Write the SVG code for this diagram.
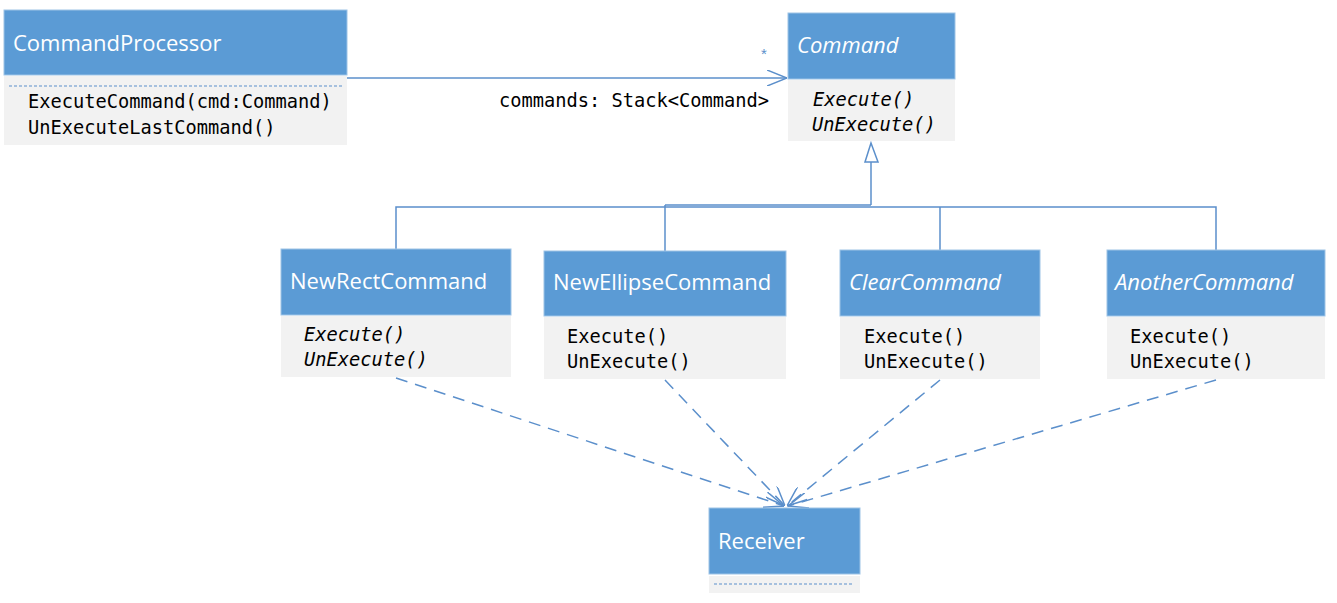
<svg xmlns="http://www.w3.org/2000/svg" width="1337" height="603" viewBox="0 0 1337 603">
<style>
.hd{fill:#5B9BD5;stroke:#9DC3E6;stroke-width:1}
.bd{fill:#F2F2F2}
.ttl{font-family:"Open Sans","Noto Sans",sans-serif;font-size:22px;fill:#FFFFFF}
.it{font-style:italic}
.m{font-family:"DejaVu Sans Mono","Liberation Mono",monospace;font-size:18.7px;fill:#000000}
.ln{stroke:#5B8FCB;stroke-width:1.5;fill:none}
.dep{stroke:#5B8FCB;stroke-width:1.5;fill:none;stroke-dasharray:12 8}
.sep{stroke:#5B8FCB;stroke-width:1;stroke-dasharray:3 2}
.lbl{font-family:"DejaVu Sans Mono","Liberation Mono",monospace;font-size:18.7px;fill:#000000}
</style>
<defs>
<marker id="open" viewBox="0 0 20 16" refX="20" refY="8" markerWidth="20" markerHeight="16" markerUnits="userSpaceOnUse" orient="auto">
<path d="M0,0 L20,8 L0,16" fill="none" stroke="#5B8FCB" stroke-width="1.5"/>
</marker>
</defs>
<rect width="1337" height="603" fill="#FFFFFF"/>

<g id="connectors">
<line class="ln" x1="347" y1="78" x2="787" y2="78" marker-end="url(#open)"/>
<text x="761" y="59" font-family="Liberation Sans,sans-serif" font-size="15" fill="#5B8FCB">*</text>
<text class="lbl" x="499" y="107">commands: Stack&lt;Command&gt;</text>
<polygon points="871,143 865,162 878,162" fill="#FFFFFF" stroke="#5B8FCB" stroke-width="1.5"/>
<line class="ln" x1="871" y1="162" x2="871" y2="205" stroke-width="2.5"/>
<line class="ln" x1="665" y1="205" x2="871" y2="205" stroke-width="2.5"/>
<polyline class="ln" points="396,249 396,207 1216,207 1216,250"/>
<line class="ln" x1="665" y1="205" x2="665" y2="251"/>
<line class="ln" x1="940" y1="207" x2="940" y2="250"/>
<line class="dep" x1="396" y1="378" x2="784" y2="506" marker-end="url(#open)"/>
<line class="dep" x1="665" y1="380" x2="785" y2="506" marker-end="url(#open)"/>
<line class="dep" x1="940" y1="380" x2="787" y2="506" marker-end="url(#open)"/>
<line class="dep" x1="1216" y1="380" x2="788" y2="506" marker-end="url(#open)"/>
</g>

<g id="CommandProcessor">
<rect class="hd" x="4" y="10" width="343" height="65"/>
<rect class="bd" x="4" y="76" width="343" height="69"/>
<line class="sep" x1="9" y1="86" x2="342" y2="86"/>
<text class="ttl" x="13" y="51">CommandProcessor</text>
<text class="m" x="28" y="108">ExecuteCommand(cmd:Command)</text>
<text class="m" x="28" y="134">UnExecuteLastCommand()</text>
</g>

<g id="Command">
<rect class="hd" x="788" y="13" width="167" height="66"/>
<rect class="bd" x="788" y="80" width="167" height="61"/>
<text class="ttl it" x="797" y="53">Command</text>
<text class="m it" x="813" y="106">Execute()</text>
<text class="m it" x="812" y="131">UnExecute()</text>
</g>

<g id="NewRectCommand">
<rect class="hd" x="281" y="249" width="230" height="66"/>
<rect class="bd" x="281" y="316" width="230" height="61"/>
<text class="ttl" x="290" y="289">NewRectCommand</text>
<text class="m it" x="304" y="341">Execute()</text>
<text class="m it" x="304" y="366">UnExecute()</text>
</g>

<g id="NewEllipseCommand">
<rect class="hd" x="544" y="251" width="242" height="65"/>
<rect class="bd" x="544" y="317" width="242" height="62"/>
<text class="ttl" x="553" y="290">NewEllipseCommand</text>
<text class="m" x="567" y="343">Execute()</text>
<text class="m" x="567" y="368">UnExecute()</text>
</g>

<g id="ClearCommand">
<rect class="hd" x="840" y="250" width="200" height="66"/>
<rect class="bd" x="840" y="317" width="200" height="62"/>
<text class="ttl it" x="849" y="290">ClearCommand</text>
<text class="m" x="864" y="343">Execute()</text>
<text class="m" x="864" y="368">UnExecute()</text>
</g>

<g id="AnotherCommand">
<rect class="hd" x="1107" y="250" width="218" height="66"/>
<rect class="bd" x="1107" y="317" width="218" height="62"/>
<text class="ttl it" x="1115" y="290">AnotherCommand</text>
<text class="m" x="1130" y="343">Execute()</text>
<text class="m" x="1130" y="368">UnExecute()</text>
</g>

<g id="Receiver">
<rect class="hd" x="709" y="508" width="151" height="66"/>
<rect class="bd" x="709" y="576" width="151" height="17"/>
<line class="sep" x1="714" y1="584" x2="854" y2="584"/>
<text class="ttl" x="718" y="549">Receiver</text>
</g>
</svg>
